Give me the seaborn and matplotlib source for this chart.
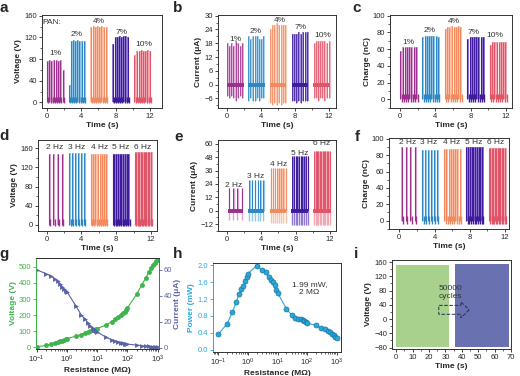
import seaborn as sns
import pandas as pd
import matplotlib.pyplot as plt
from matplotlib.ticker import MultipleLocator, AutoMinorLocator
from matplotlib.patches import FancyArrow

# ---------------- data ----------------
pan_labels = ["1%", "2%", "4%", "7%", "10%"]
hz_labels = ["2 Hz", "3 Hz", "4 Hz", "5 Hz", "6 Hz"]

# pulse times (s), PAN content series (a-c)
pan_t = [
    [0.05, 0.3, 0.55, 0.8, 1.05, 1.3, 1.55, 1.85],
    [2.55, 2.8, 3.05, 3.3, 3.55, 3.8, 4.05, 4.3],
    [5.1, 5.35, 5.6, 5.85, 6.1, 6.35, 6.6, 6.85],
    [7.65, 7.9, 8.15, 8.4, 8.65, 8.9, 9.15, 9.4],
    [10.2, 10.45, 10.7, 10.95, 11.2, 11.45, 11.7, 11.95],
]
volt_a = [
    [76, 78, 77, 79, 78, 77, 78, 60],
    [32, 114, 115, 114, 115, 114, 114, 113],
    [140, 141, 140, 141, 140, 141, 140, 139],
    [108, 120, 121, 122, 121, 122, 123, 121],
    [88, 95, 95, 96, 95, 95, 96, 94],
]
cur_b_pos = [
    [18, 17, 18, 17, 19, 18, 17, 18],
    [21, 20, 21, 21, 21, 20, 20, 21],
    [24, 26, 26, 27, 26, 26, 26, 26],
    [22, 22, 22, 23, 22, 23, 23, 23],
    [18, 19, 19, 19, 19, 19, 18, 19],
]
cur_b_neg = [
    [-5, -6, -5, -6, -7, -6, -5, -6],
    [-7, -6, -7, -7, -6, -7, -6, -6],
    [-8, -9, -8, -9, -8, -9, -8, -8],
    [-7, -7, -8, -7, -8, -7, -7, -7],
    [-6, -6, -7, -6, -6, -7, -6, -6],
]
charge_c = [
    [58, 62, 63, 62, 63, 62, 63, 62],
    [74, 76, 76, 76, 76, 76, 76, 75],
    [84, 87, 87, 88, 87, 87, 88, 86],
    [72, 74, 74, 74, 75, 74, 74, 75],
    [65, 69, 69, 69, 69, 69, 69, 68],
]

# pulse times (s), frequency series (d-f)
hz_t = [
    [0.25, 0.75, 1.25, 1.75],
    [2.6, 2.93, 3.27, 3.6, 3.93, 4.27],
    [5.1, 5.35, 5.6, 5.85, 6.1, 6.35, 6.6, 6.85],
    [7.6, 7.8, 8.0, 8.2, 8.4, 8.6, 8.8, 9.0, 9.2, 9.4],
    [10.15, 10.32, 10.48, 10.65, 10.82, 10.98, 11.15, 11.32, 11.48, 11.65, 11.82, 11.98],
]
volt_d = [147, 150, 147, 148, 151]
cur_e_pos = [20, 28, 38, 49, 54]
cur_e_neg = [-8, -9, -11, -13, -13]
charge_f = [90, 86, 88, 90, 89]

# g, h: load resistance sweep
res = [0.1, 0.2, 0.3, 0.4, 0.5, 0.6, 0.7, 0.8, 0.9, 1, 2, 3, 4, 5, 6, 7, 8, 9, 10,
       20, 30, 40, 50, 60, 70, 80, 90, 100, 200, 300, 400, 500, 600, 700, 800, 900, 1000]
volt_g = [4, 12, 20, 28, 33, 38, 42, 47, 50, 55, 70, 80, 88, 95, 100, 105, 110, 113, 117,
          140, 160, 175, 190, 200, 212, 222, 232, 245, 330, 390, 430, 465, 490, 510, 525, 535, 545]
cur_g = [60, 57, 55, 53, 51, 49, 47, 45, 44, 43, 32, 25, 22, 19, 17, 15, 14, 13, 12,
         8, 6, 5, 4.5, 4, 3.5, 3.2, 3, 2.8, 2, 1.5, 1.2, 1, 0.9, 0.8, 0.7, 0.6, 0.5]
power_h = [0.37, 0.62, 0.9, 1.12, 1.32, 1.43, 1.5, 1.62, 1.72, 1.8, 1.99, 1.88, 1.83, 1.72,
           1.65, 1.6, 1.52, 1.42, 1.35, 0.97, 0.82, 0.76, 0.74, 0.72, 0.71, 0.69, 0.66, 0.63,
           0.58, 0.52, 0.49, 0.45, 0.42, 0.38, 0.34, 0.31, 0.27]

# i: durability test, start / end of the two recorded windows
cyc_t1 = [0, 32.5]
cyc_t2 = [36, 68.5]
cyc_hi = [151, 151]
cyc_lo = [-78, -78]

dark = ["#9c2f8c", "#2f86c3", "#f28a60", "#3d1b9a", "#e05468"]
light = ["#d9a3d3", "#93c7e9", "#fbc2a8", "#9079d2", "#f3a9b4"]
green = "#3db54a"
blue = "#5a62a8"
cyan = "#29a9db"

sns.set_theme(style="ticks")
plt.rcParams["font.family"] = ["Liberation Sans", "DejaVu Sans"]
plt.rcParams.update({
    "axes.linewidth": 0.7, "axes.edgecolor": "#333333",
    "axes.labelsize": 6, "axes.labelweight": "bold", "axes.labelpad": 1.5,
    "xtick.labelsize": 5.5, "ytick.labelsize": 5.5,
    "xtick.major.size": 2, "ytick.major.size": 2,
    "xtick.minor.size": 1.2, "ytick.minor.size": 1.2,
    "xtick.major.width": 0.6, "ytick.major.width": 0.6,
    "xtick.minor.width": 0.5, "ytick.minor.width": 0.5,
    "xtick.major.pad": 1.5, "ytick.major.pad": 1.5,
})

fig = plt.figure(figsize=(5.2, 3.76), dpi=100)


def box(l, t, r, b):
    # pixel box -> figure fraction
    return [l / 520, 1 - b / 376, (r - l) / 520, (b - t) / 376]


def time_axis(ax, xlim, ylim, ystep, ylabel):
    ax.set_xlim(xlim)
    ax.set_ylim(ylim)
    ax.xaxis.set_major_locator(MultipleLocator(4))
    ax.yaxis.set_major_locator(MultipleLocator(ystep))
    ax.xaxis.set_minor_locator(AutoMinorLocator(2))
    ax.yaxis.set_minor_locator(AutoMinorLocator(2))
    ax.set_xlabel("Time (s)")
    ax.set_ylabel(ylabel)


def pulses(ax, times, tops, base, k, lo=None, hi=None):
    ax.vlines([t + 0.1 for t in times], base, tops, color=light[k], lw=1.4)
    ax.vlines(times, base, tops, color=dark[k], lw=0.8)
    if lo is not None:
        ax.vlines([t + 0.15 for t in times], lo, hi, color=dark[k], lw=1.0)


def labels(ax, texts, pos, size=6):
    for s, (x, y) in zip(texts, pos):
        ax.text(x, y, s, ha="center", va="center", fontsize=size, color="#333333")


# ---- a ----
ax = fig.add_axes(box(42, 15, 162, 108))
for k in range(5):
    pulses(ax, pan_t[k], volt_a[k], 0, k, -2, 10)
time_axis(ax, (-0.55, 13.4), (-10.5, 161.5), 40, "Voltage (V)")
labels(ax, pan_labels, [(1.0, 90), (3.45, 125), (6.0, 149), (8.7, 130), (11.3, 107)])
ax.text(-0.45, 148, "PAN:", ha="left", va="center", fontsize=6, color="#333333")

# ---- b ----
ax = fig.add_axes(box(218, 15, 336, 108))
for k in range(5):
    ax.vlines([t + 0.09 for t in pan_t[k]], cur_b_neg[k], cur_b_pos[k], color=light[k], lw=1.2)
    ax.vlines(pan_t[k], cur_b_neg[k], cur_b_pos[k], color=dark[k], lw=0.7, alpha=0.8)
    ax.hlines(0, pan_t[k][0] - 0.05, pan_t[k][-1] + 0.15, color=dark[k], lw=2.8)
time_axis(ax, (-1.0, 12.8), (-10.2, 30.3), 6, "Current (\u03bcA)")
labels(ax, pan_labels, [(1.05, 19.7), (3.4, 23), (6.2, 28), (8.7, 25), (11.25, 21.2)])

# ---- c ----
ax = fig.add_axes(box(390, 15, 512, 108))
for k in range(5):
    pulses(ax, pan_t[k], charge_c[k], 0, k, -3, 6)
time_axis(ax, (-1.13, 12.7), (-10.4, 100.8), 20, "Charge (nC)")
labels(ax, pan_labels, [(0.95, 68), (3.4, 82), (6.1, 93), (8.3, 80), (10.8, 76)])

# ---- d ----
ax = fig.add_axes(box(38, 140, 157, 231))
for k in range(5):
    pulses(ax, hz_t[k], [volt_d[k]] * len(hz_t[k]), 0, k, -3, 12)
time_axis(ax, (-1.0, 12.7), (-12.5, 177), 40, "Voltage (V)")
labels(ax, hz_labels, [(0.96, 162), (3.46, 162), (6.07, 162), (8.5, 162), (11.0, 162)])

# ---- e ----
ax = fig.add_axes(box(218, 140, 336, 231))
for k in range(5):
    n = len(hz_t[k])
    ax.vlines([t + 0.06 for t in hz_t[k]], 0, [cur_e_pos[k]] * n, color=light[k], lw=1.0)
    ax.vlines(hz_t[k], 0, [cur_e_pos[k]] * n, color=dark[k], lw=0.7)
    ax.vlines(hz_t[k], [cur_e_neg[k]] * n, 0, color=light[k], lw=1.0)
    ax.hlines(0, hz_t[k][0] - 0.1, hz_t[k][-1] + 0.1, color=dark[k], lw=2.8)
time_axis(ax, (-1.0, 12.7), (-18.3, 63.6), 12, "Current (\u03bcA)")
labels(ax, hz_labels, [(0.8, 22.5), (3.4, 30.6), (6.0, 41.7), (8.45, 51.6), (11.0, 60.2)])

# ---- f ----
ax = fig.add_axes(box(389, 138, 509, 229))
for k in range(5):
    pulses(ax, hz_t[k], [charge_f[k]] * len(hz_t[k]), 0, k, -4, 6)
time_axis(ax, (-1.17, 12.45), (-10.2, 101.2), 20, "Charge (nC)")
labels(ax, hz_labels, [(1.0, 96), (3.3, 96), (5.95, 96), (8.4, 96), (10.9, 96)])

# ---- g ----
df_g = pd.DataFrame({"R": res, "V": volt_g, "I": cur_g})
ax = fig.add_axes(box(36, 258, 159, 349))
ax.set_xscale("log")
sns.lineplot(data=df_g, x="R", y="V", ax=ax, color=green, lw=0.8, marker="o",
             markersize=3.5, markeredgewidth=0)
ax.set_xlim(0.095, 1100)
ax.set_ylim(-10, 555)
ax.yaxis.set_major_locator(MultipleLocator(100))
ax.set_xlabel("Resistance (M\u03a9)")
ax.set_ylabel("Voltage (V)", color=green)
ax.tick_params(axis="y", colors=green)
ax2 = ax.twinx()
sns.lineplot(data=df_g, x="R", y="I", ax=ax2, color=blue, lw=0.8, marker=">",
             markersize=3.5, markeredgewidth=0)
ax2.set_ylim(-1, 69)
ax2.yaxis.set_major_locator(MultipleLocator(20))
ax2.set_ylabel("Current (\u03bcA)", color=blue)
ax2.tick_params(axis="y", colors=blue)
ax2.spines["left"].set_color(green)
ax2.spines["right"].set_color(blue)

# ---- h ----
df_h = pd.DataFrame({"R": res, "P": power_h})
ax = fig.add_axes(box(213, 263, 341, 352))
ax.set_xscale("log")
sns.lineplot(data=df_h, x="R", y="P", ax=ax, color=cyan, lw=0.8, marker="o",
             markersize=3.6, markeredgecolor="#1b74a0", markeredgewidth=0.5)
ax.set_xlim(0.066, 1400)
ax.set_ylim(-0.05, 2.05)
ax.yaxis.set_major_locator(MultipleLocator(0.4))
ax.yaxis.set_major_formatter(plt.FormatStrFormatter("%.1f"))
ax.set_xlabel("Resistance (M\u03a9)")
ax.set_ylabel("Power (mW)", color=cyan)
ax.tick_params(axis="y", colors=cyan)
ax.spines["left"].set_color(cyan)
ax.text(120, 1.45, "1.99 mW,\n2 M\u03a9", ha="center", va="center", fontsize=6,
        color="#333333", linespacing=1.3)

# ---- i ----
ax = fig.add_axes(box(392, 260, 511, 349))
ax.fill_between(cyc_t1, cyc_lo, cyc_hi, color="#a9d18e", lw=0)
ax.fill_between(cyc_t2, cyc_lo, [155, 155], color=blue, alpha=0.9, lw=0)
ax.add_patch(FancyArrow(26, 26, 13.5, 0, width=25, head_width=45, head_length=5,
                        length_includes_head=False, fill=False, ls="--", lw=0.7,
                        ec="#2b2b55"))
ax.text(26, 76, "50000\ncycles", ha="left", va="center", fontsize=6,
        color="#333333", linespacing=1.2)
ax.set_xlim(-2.5, 70)
ax.set_ylim(-84, 166)
ax.xaxis.set_major_locator(MultipleLocator(10))
ax.yaxis.set_major_locator(MultipleLocator(40))
ax.xaxis.set_minor_locator(AutoMinorLocator(2))
ax.yaxis.set_minor_locator(AutoMinorLocator(2))
ax.set_xlabel("Time (s)")
ax.set_ylabel("Voltage (V)")

for s, (x, y) in zip("abcdefghi", [(4, 8), (178, 8), (357, 8), (4, 136), (179, 137),
                                    (357, 137), (4, 254), (178, 254), (356, 254)]):
    fig.text(x / 520, 1 - y / 376, s, ha="center", va="center", fontsize=11, weight="bold")

fig.savefig("out.png", dpi=100)
